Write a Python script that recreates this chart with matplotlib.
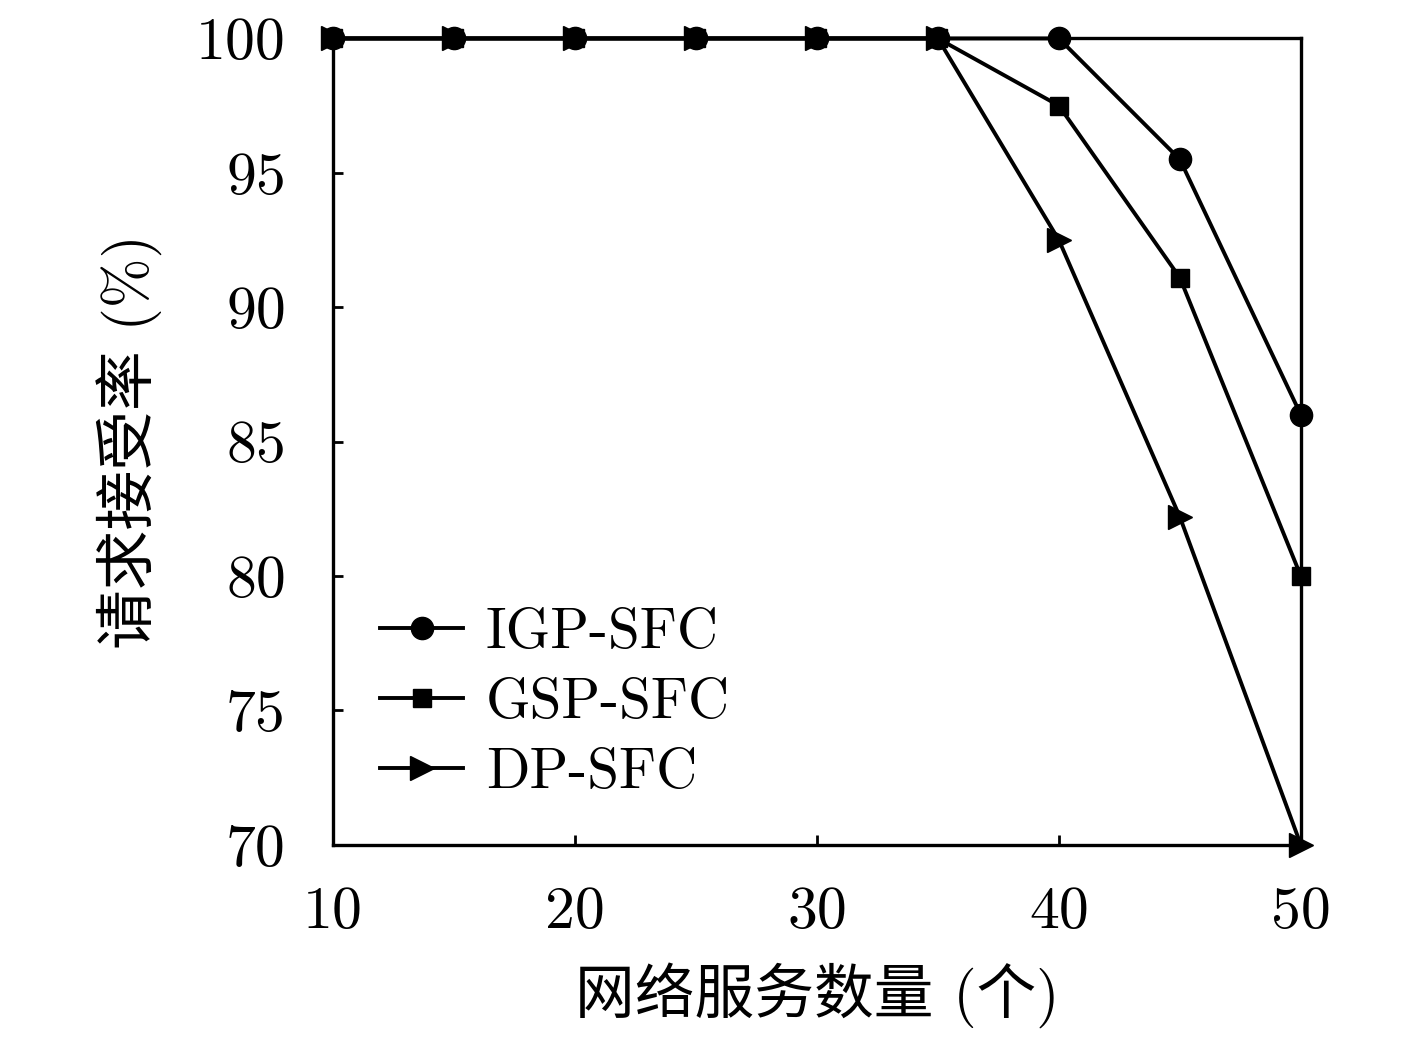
import matplotlib
matplotlib.use("Agg")
import matplotlib.pyplot as plt

x = [10, 15, 20, 25, 30, 35, 40, 45, 50]
igp = [100, 100, 100, 100, 100, 100, 100, 95.5, 86.0]
gsp = [100, 100, 100, 100, 100, 100, 97.5, 91.1, 80.0]
dp = [100, 100, 100, 100, 100, 100, 92.5, 82.2, 70.0]
names = ["IGP-SFC", "GSP-SFC", "DP-SFC"]
xticks = [10, 20, 30, 40, 50]
yticks = [70, 75, 80, 85, 90, 95, 100]

plt.rcParams['font.family'] = ['cmr10', 'Noto Sans CJK SC', 'DejaVu Sans']
plt.rcParams['axes.formatter.use_mathtext'] = True

fig = plt.figure(figsize=(14.17, 10.39), dpi=100)
ax = fig.add_axes([0.235, 0.187, 0.683, 0.776])

lw = 2.8
ax.plot(x, igp, color='black', lw=lw, marker='o', ms=16, label=names[0], clip_on=False, zorder=3)
ax.plot(x, gsp, color='black', lw=lw, marker='s', ms=13, label=names[1], clip_on=False, zorder=3)
ax.plot(x, dp, color='black', lw=lw, marker='>', ms=17, label=names[2], clip_on=False, zorder=3)

ax.set_xlim(10, 50)
ax.set_ylim(70, 100)
ax.set_xticks(xticks)
ax.set_yticks(yticks)
ax.set_xticklabels([str(v) for v in xticks])
ax.set_yticklabels([str(v) for v in yticks])
ax.tick_params(direction='in', length=7, width=2, labelsize=43)
ax.tick_params(axis='y', pad=34)
ax.tick_params(axis='x', pad=30)
for s in ax.spines.values():
    s.set_linewidth(2.4)

ax.set_xlabel("网络服务数量 (个)", fontsize=43, labelpad=16)
ax.set_ylabel("请求接受率 (%)", fontsize=43, labelpad=24)

ax.legend(loc='lower left', bbox_to_anchor=(0.049, 0.057), frameon=False, fontsize=41,
          handlelength=1.45, handletextpad=0.4, labelspacing=0.33, borderaxespad=0,
          borderpad=0)

fig.savefig("out.png", dpi=100)
